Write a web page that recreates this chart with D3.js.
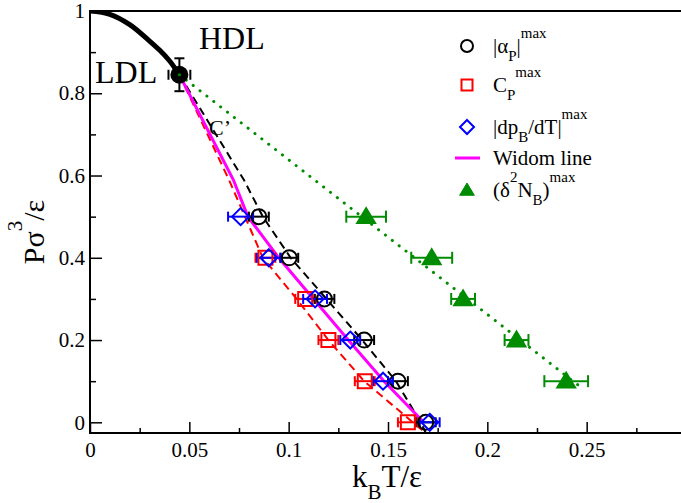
<!DOCTYPE html>
<html>
<head>
<meta charset="utf-8">
<script src="https://cdn.jsdelivr.net/npm/d3@7"></script>
<style>
body { margin: 0; background: #fff; }
text { font-family: "Liberation Serif", "Times New Roman", serif; fill: #000; }
</style>
</head>
<body>
<div id="chart"></div>
<script>
// pressure rows shared by the marker series
const pAlpha = [0.5, 0.4, 0.3, 0.2, 0.1, 0];
const tAlpha = [0.085, 0.1003, 0.118, 0.138, 0.155, 0.169];
const eAlpha = [0.005, 0.0045, 0.005, 0.005, 0.005, 0.005];

const pCp = [0.4, 0.3, 0.2, 0.1, 0];
const tCp = [0.0883, 0.1083, 0.12, 0.1383, 0.16];
const eCp = [0.005, 0.005, 0.005, 0.005, 0.005];

const pDp = [0.5, 0.4, 0.3, 0.2, 0.1, 0];
const tDp = [0.0758, 0.09, 0.1133, 0.131, 0.1475, 0.171];
const eDp = [0.0063, 0.006, 0.006, 0.005, 0.005, 0.005];

const pN = [0.5, 0.4, 0.3, 0.2, 0.1];
const tN = [0.139, 0.172, 0.1878, 0.2147, 0.2397];
const eN = [0.01, 0.0103, 0.006, 0.006, 0.011];

// critical point C'
const crit = {t: 0.045, p: 0.845, et: 0.0055, ep: 0.04};

// lines [T, P]
const coexLine = [[0, 1], [0.01, 0.992], [0.02, 0.967], [0.03, 0.927], [0.035, 0.905], [0.04, 0.879], [0.045, 0.845]];
const widomLine = [[0.045, 0.845], [0.0722, 0.589], [0.0795, 0.5], [0.095, 0.4], [0.1125, 0.3], [0.13, 0.2], [0.148, 0.1], [0.168, 0]];
const alphaFit = [[0.045, 0.845], [0.0775, 0.589], [0.087, 0.5], [0.101, 0.4], [0.119, 0.3], [0.137, 0.2], [0.154, 0.1], [0.1665, 0], [0.169, -0.026]];
const cpFit = [[0.045, 0.845], [0.07, 0.589], [0.087, 0.4], [0.104, 0.3], [0.12, 0.2], [0.138, 0.1], [0.1625, 0], [0.169, -0.026]];
const nFit = [[0.045, 0.845], [0.2485, 0.08]];

const xTicks = [0, 0.05, 0.1, 0.15, 0.2, 0.25];
const xTickLabels = ["0", "0.05", "0.1", "0.15", "0.2", "0.25"];
const xMinor = [0.025, 0.075, 0.125, 0.175, 0.225, 0.275];
const yTicks = [0, 0.2, 0.4, 0.6, 0.8, 1];
const yTickLabels = ["0", "0.2", "0.4", "0.6", "0.8", "1"];
const yMinor = [0.1, 0.3, 0.5, 0.7, 0.9];

const width = 681, height = 503;
const green = "#008c00";

const svg = d3.select("#chart").append("svg")
    .attr("width", width)
    .attr("height", height);

const x = d3.scaleLinear().domain([0, 0.3]).range([90, 686]);
const y = d3.scaleLinear().domain([-0.026, 1]).range([433, 11]);

svg.append("clipPath").attr("id", "plot")
    .append("rect").attr("x", 90).attr("y", 11).attr("width", 596).attr("height", 422);

// axes, ticks inward
const xAxis = d3.axisBottom(x).tickValues(xTicks).tickSize(-11).tickPadding(9)
    .tickFormat((d, i) => xTickLabels[i]);
const xAxisMinor = d3.axisBottom(x).tickValues(xMinor).tickSize(-5).tickFormat("");
const yAxis = d3.axisLeft(y).tickValues(yTicks).tickSize(-12).tickPadding(5)
    .tickFormat((d, i) => yTickLabels[i]);
const yAxisMinor = d3.axisLeft(y).tickValues(yMinor).tickSize(-6).tickFormat("");

function styleAxis(g) {
    g.select(".domain").remove();
    g.selectAll("line").attr("stroke", "#000").attr("stroke-width", 1.5);
    g.selectAll("text").style("font-family", "Liberation Serif").style("font-size", "21px").attr("fill", "#000");
}

svg.append("g").attr("transform", "translate(0,433)").call(xAxis).call(styleAxis);
svg.append("g").attr("transform", "translate(0,433)").call(xAxisMinor).call(styleAxis);
svg.append("g").attr("transform", "translate(90,0)").call(yAxis).call(styleAxis);
svg.append("g").attr("transform", "translate(90,0)").call(yAxisMinor).call(styleAxis);

// frame
svg.append("rect")
    .attr("x", 90).attr("y", 11).attr("width", 596).attr("height", 422)
    .attr("fill", "none").attr("stroke", "#000").attr("stroke-width", 2);

const line = d3.line().x(d => x(d[0])).y(d => y(d[1]));
const plot = svg.append("g").attr("clip-path", "url(#plot)");

// lines
plot.append("path").datum(nFit).attr("d", line)
    .attr("fill", "none").attr("stroke", green).attr("stroke-width", 3)
    .attr("stroke-linecap", "round").attr("stroke-dasharray", "0.1,8.6");
plot.append("path").datum(alphaFit).attr("d", line)
    .attr("fill", "none").attr("stroke", "#000").attr("stroke-width", 2).attr("stroke-dasharray", "8,5");
plot.append("path").datum(cpFit).attr("d", line)
    .attr("fill", "none").attr("stroke", "#ff0000").attr("stroke-width", 2).attr("stroke-dasharray", "8,5");
plot.append("path").datum(widomLine).attr("d", line)
    .attr("fill", "none").attr("stroke", "#ff00ff").attr("stroke-width", 3);
plot.append("path").datum(coexLine).attr("d", line.curve(d3.curveCatmullRom))
    .attr("fill", "none").attr("stroke", "#000").attr("stroke-width", 5);
line.curve(d3.curveLinear);

// horizontal error bars
function hErr(ts, ps, es, color, cap) {
    const g = plot.append("g").attr("stroke", color).attr("stroke-width", 2).attr("fill", "none");
    ts.forEach((t, i) => {
        const yy = y(ps[i]), x0 = x(t - es[i]), x1 = x(t + es[i]);
        g.append("line").attr("x1", x0).attr("x2", x1).attr("y1", yy).attr("y2", yy);
        g.append("line").attr("x1", x0).attr("x2", x0).attr("y1", yy - cap).attr("y2", yy + cap);
        g.append("line").attr("x1", x1).attr("x2", x1).attr("y1", yy - cap).attr("y2", yy + cap);
    });
}
hErr(tCp, pCp, eCp, "#ff0000", 5);
hErr(tAlpha, pAlpha, eAlpha, "#000", 5);
hErr(tDp, pDp, eDp, "#0000ff", 5);
hErr(tN, pN, eN, green, 6);

// markers
const sym = {
    circle: r => d3.symbol(d3.symbolCircle, Math.PI * r * r)(),
    square: s => `M${-s},${-s}H${s}V${s}H${-s}Z`,
    diamond: s => `M0,${-s}L${s},0L0,${s}L${-s},0Z`,
    triangle: s => `M0,${-s}L${s * 1.05},${s * 0.75}L${-s * 1.05},${s * 0.75}Z`
};

function markers(ts, ps, d, stroke, fill) {
    plot.append("g").selectAll("path").data(ts).join("path")
        .attr("transform", (t, i) => `translate(${x(t)},${y(ps[i])})`)
        .attr("d", d)
        .attr("fill", fill).attr("stroke", stroke).attr("stroke-width", 2);
}
markers(tCp, pCp, sym.square(7), "#ff0000", "none");
markers(tAlpha, pAlpha, sym.circle(7.5), "#000", "none");
markers(tDp, pDp, sym.diamond(8.5), "#0000ff", "none");
markers(tN, pN, sym.triangle(8.5), green, green);

// critical point with error bars
const cg = plot.append("g").attr("stroke", "#000").attr("stroke-width", 2);
const cx = x(crit.t), cy = y(crit.p);
cg.append("line").attr("x1", cx).attr("x2", cx).attr("y1", y(crit.p + crit.ep)).attr("y2", y(crit.p - crit.ep));
cg.append("line").attr("x1", cx - 5).attr("x2", cx + 5).attr("y1", y(crit.p + crit.ep)).attr("y2", y(crit.p + crit.ep));
cg.append("line").attr("x1", cx - 5).attr("x2", cx + 5).attr("y1", y(crit.p - crit.ep)).attr("y2", y(crit.p - crit.ep));
cg.append("line").attr("x1", x(crit.t - crit.et)).attr("x2", x(crit.t - crit.et)).attr("y1", cy - 5).attr("y2", cy + 5);
cg.append("line").attr("x1", x(crit.t + crit.et)).attr("x2", x(crit.t + crit.et)).attr("y1", cy - 5).attr("y2", cy + 5);
plot.append("circle").attr("cx", cx).attr("cy", cy).attr("r", 9).attr("fill", "#000");
plot.append("circle").attr("cx", cx).attr("cy", cy).attr("r", 1.6).attr("fill", green);

// rich text helper: parts [text, "sub"|"sup"|undefined]
function rich(g, parts, size, small) {
    const t = g.append("text").style("font-size", size + "px");
    let shift = 0;
    parts.forEach(([s, k]) => {
        const target = k === "sub" ? size * 0.38 : k === "sup" ? -size * 0.72 : 0;
        t.append("tspan").attr("dy", target - shift)
            .style("font-size", (k ? small : size) + "px").text(s);
        shift = target;
    });
    return t;
}

// region labels
svg.append("text").attr("x", 199).attr("y", 49).style("font-size", "32px").text("HDL");
svg.append("text").attr("x", 95).attr("y", 83).style("font-size", "32px").text("LDL");
svg.append("text").attr("x", 209).attr("y", 135).style("font-size", "22px").text("C’");

// axis titles
rich(svg.append("g").attr("transform", "translate(387,487)"),
    [["k"], ["B", "sub"], ["T/ε"]], 31, 21).attr("text-anchor", "middle");
rich(svg.append("g").attr("transform", "translate(44,232) rotate(-90)"),
    [["Pσ"], ["3", "sup"], ["/ε"]], 30, 21).attr("text-anchor", "middle");

// legend
const legendItems = [
    {y: 46, mark: "circle", parts: [["|α"], ["P", "sub"], ["|"], ["max", "sup"]]},
    {y: 85, mark: "square", parts: [["C"], ["P", "sub"], ["max", "sup"]]},
    {y: 127, mark: "diamond", parts: [["|dp"], ["B", "sub"], ["/dT|"], ["max", "sup"]]},
    {y: 158, mark: "line", parts: [["Widom line"]]},
    {y: 190, mark: "triangle", parts: [["(δ"], ["2", "sup"], ["N"], ["B", "sub"], [")"], ["max", "sup"]]}
];
const lg = svg.append("g");
legendItems.forEach(it => {
    const g = lg.append("g").attr("transform", `translate(467,${it.y})`);
    if (it.mark === "circle") g.append("path").attr("d", sym.circle(6)).attr("fill", "none").attr("stroke", "#000").attr("stroke-width", 2);
    if (it.mark === "square") g.append("path").attr("d", sym.square(5.5)).attr("fill", "none").attr("stroke", "#ff0000").attr("stroke-width", 2);
    if (it.mark === "diamond") g.append("path").attr("d", sym.diamond(7)).attr("fill", "none").attr("stroke", "#0000ff").attr("stroke-width", 2);
    if (it.mark === "triangle") g.append("path").attr("d", sym.triangle(7)).attr("fill", green).attr("stroke", green).attr("stroke-width", 1);
    if (it.mark === "line") g.append("line").attr("x1", -12).attr("x2", 13).attr("y1", 0).attr("y2", 0).attr("stroke", "#ff00ff").attr("stroke-width", 3);
    rich(g.append("g").attr("transform", "translate(26,7)"), it.parts, 21, 15);
});
</script>
</body>
</html>
